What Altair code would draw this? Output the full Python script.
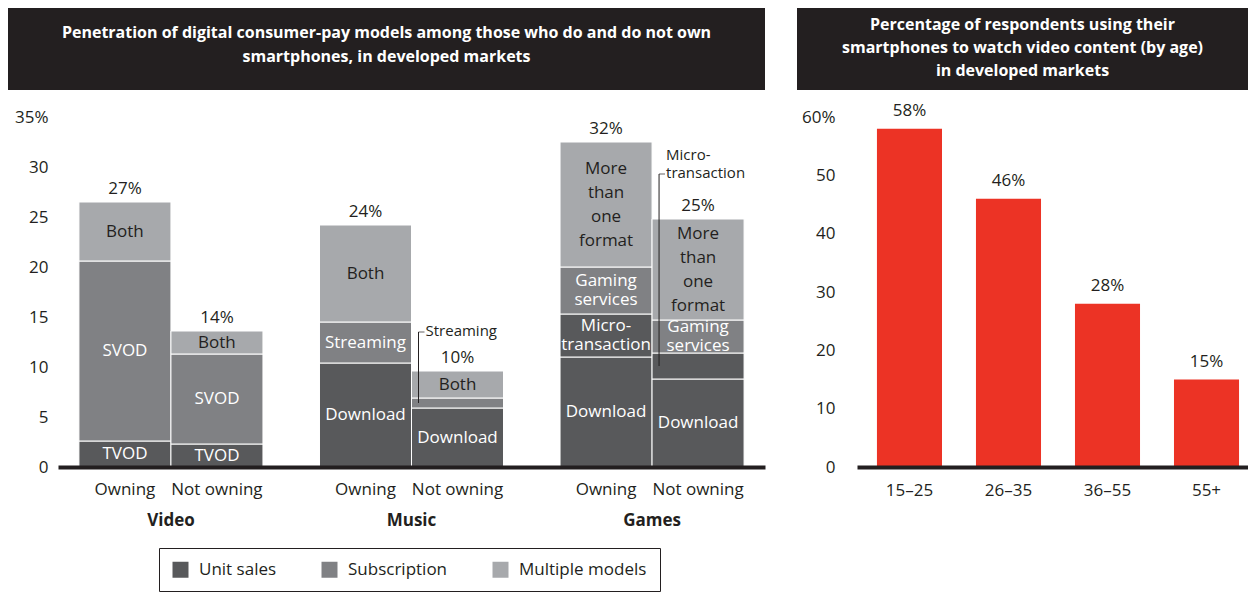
import altair as alt
import pandas as pd

FONT = "Open Sans"
DARK = "#231f20"

# ---------------- left chart data ----------------
groups = ["Video", "Music", "Games"]
owners = ["Owning", "Not owning"]
models = ["Unit sales", "Subscription", "Multiple models"]
model_colors = ["#58595b", "#808184", "#a7a9ac"]

seg_group = ["Video"] * 6 + ["Music"] * 6 + ["Games"] * 8
seg_owner = (["Owning"] * 3 + ["Not owning"] * 3 + ["Owning"] * 3 + ["Not owning"] * 3
             + ["Owning"] * 4 + ["Not owning"] * 4)
seg_name = ["TVOD", "SVOD", "Both", "TVOD", "SVOD", "Both",
            "Download", "Streaming", "Both", "Download", "Streaming", "Both",
            "Download", "Micro-transaction", "Gaming services", "More than one format",
            "Download", "Micro-transaction", "Gaming services", "More than one format"]
seg_model = ["Unit sales", "Subscription", "Multiple models"] * 4 + \
            ["Unit sales", "Unit sales", "Subscription", "Multiple models"] * 2
seg_value = [2.6, 18.0, 5.9, 2.3, 9.0, 2.3,
             10.4, 4.1, 9.7, 5.9, 1.0, 2.7,
             11.0, 4.3, 4.7, 12.5, 8.8, 2.6, 3.3, 10.1]
seg_label = ["TVOD", "SVOD", "Both", "TVOD", "SVOD", "Both",
             "Download", "Streaming", "Both", "Download", "", "Both",
             "Download", "Micro-\ntransaction", "Gaming\nservices", "More\nthan\none\nformat",
             "Download", "", "Gaming\nservices", "More\nthan\none\nformat"]

bar_group = ["Video", "Video", "Music", "Music", "Games", "Games"]
bar_owner = ["Owning", "Not owning"] * 3
bar_total_label = ["27%", "14%", "24%", "10%", "32%", "25%"]

callout_group = ["Music", "Games"]
callout_owner = ["Not owning", "Not owning"]
callout_segment = ["Streaming", "Micro-transaction"]
callout_text = ["Streaming", "Micro-\ntransaction"]

left_title = "Penetration of digital consumer-pay models among those who do and do not own\nsmartphones, in developed markets"

# ---------------- right chart data ----------------
ages = ["15–25", "26–35", "36–55", "55+"]
age_values = [58, 46, 28, 15]
age_labels = ["58%", "46%", "28%", "15%"]
right_title = "Percentage of respondents using their\nsmartphones to watch video content (by age)\nin developed markets"

# ---------------- tables ----------------
seg = pd.DataFrame({"group": seg_group, "owner": seg_owner, "segment": seg_name,
                    "model": seg_model, "value": seg_value, "label": seg_label})
seg["y1"] = seg.groupby(["group", "owner"], sort=False)["value"].cumsum()
seg["y0"] = seg["y1"] - seg["value"]
seg["mid"] = (seg["y0"] + seg["y1"]) / 2
seg["nlines"] = seg["label"].str.count("\n") + 1

tops = seg.groupby(["group", "owner"], sort=False)["y1"].max().reset_index(name="top")
bars = pd.DataFrame({"group": bar_group, "owner": bar_owner, "label": bar_total_label}).merge(
    tops, on=["group", "owner"])

callouts = pd.DataFrame({"group": callout_group, "owner": callout_owner,
                         "segment": callout_segment, "text": callout_text})
callouts = callouts.merge(seg[["group", "owner", "segment", "mid"]], on=["group", "owner", "segment"])
callouts = callouts.merge(tops, on=["group", "owner"])

ages_df = pd.DataFrame({"age": ages, "value": age_values, "label": age_labels})

# ---------------- left chart ----------------
LW, LH = 707, 350
xenc = alt.X("group:N", sort=groups, title=None,
             scale=alt.Scale(paddingInner=0.235, paddingOuter=0.087),
             axis=alt.Axis(labelAngle=0, ticks=False, tickSize=0, domainWidth=4, domainColor=DARK,
                           labelPadding=45, labelFontWeight="bold", labelFontSize=17,
                           labelColor=DARK, labelFont=FONT, zindex=1))
xoff = alt.XOffset("owner:N", sort=owners, scale=alt.Scale(paddingInner=0, paddingOuter=0))
yscale = alt.Scale(domain=[0, 35], nice=False)
yaxis = alt.Axis(values=list(range(0, 40, 5)),
                 labelExpr="datum.value == 35 ? '35%' : datum.label",
                 domain=False, ticks=False, grid=False, labelPadding=10,
                 labelFontSize=17, labelColor=DARK, labelFont=FONT)

bar_layer = alt.Chart(seg).mark_bar(stroke="white", strokeWidth=1).encode(
    x=xenc, xOffset=xoff,
    y=alt.Y("y0:Q", scale=yscale, axis=yaxis, title=None),
    y2="y1:Q",
    color=alt.Color("model:N", scale=alt.Scale(domain=models, range=model_colors),
                    legend=alt.Legend(title=None, orient="none", legendX=101, legendY=431,
                                      direction="horizontal", symbolType="square",
                                      symbolSize=256, symbolStrokeWidth=0,
                                      labelFontSize=17, labelColor=DARK, labelFont=FONT,
                                      columnPadding=44, padding=13, labelOffset=10,
                                      strokeColor=DARK, fillColor="white")),
)

txt_color = alt.condition(alt.datum.model == "Multiple models", alt.value(DARK), alt.value("white"))


def seg_text(n, line_h):
    return alt.Chart(seg).transform_filter(
        f"datum.label != '' && datum.nlines == {n}"
    ).mark_text(font=FONT, fontSize=17, lineBreak="\n", lineHeight=line_h, baseline="middle",
                dy=-(n - 1) * line_h / 2).encode(
        x=xenc, xOffset=xoff,
        y=alt.Y("mid:Q", scale=yscale, axis=yaxis, title=None),
        text="label:N", color=txt_color,
    )


seg_texts = [seg_text(1, 20), seg_text(2, 19), seg_text(4, 24)]

total_text = alt.Chart(bars).mark_text(font=FONT, fontSize=17, baseline="bottom", dy=-4,
                                       color=DARK).encode(
    x=xenc, xOffset=xoff,
    y=alt.Y("top:Q", scale=yscale, axis=yaxis, title=None),
    text="label:N",
)

owner_text = alt.Chart(bars).mark_text(font=FONT, fontSize=17, baseline="middle",
                                       color=DARK).encode(
    x=xenc, xOffset=xoff, y=alt.value(LH + 23), text="owner:N",
)


# callouts (positioned from the group band centre = the left edge of the "Not owning" bar)
def callout_layers(idx, top_off, text_dy, line_h):
    d = callouts.iloc[[idx]]
    rule = alt.Chart(d).mark_rule(color=DARK, strokeWidth=1, xOffset=7,
                                  y2Offset=top_off).encode(
        x=xenc,
        y=alt.Y("mid:Q", scale=yscale, axis=yaxis, title=None), y2="top:Q",
    )
    tick = alt.Chart(d).mark_tick(color=DARK, thickness=1, size=6, xOffset=10,
                                  yOffset=top_off).encode(
        x=xenc,
        y=alt.Y("top:Q", scale=yscale, axis=yaxis, title=None),
    )
    text = alt.Chart(d).mark_text(font=FONT, fontSize=15, align="left", baseline="middle",
                                  dx=14, dy=text_dy, lineBreak="\n", lineHeight=line_h,
                                  color=DARK).encode(
        x=xenc,
        y=alt.Y("top:Q", scale=yscale, axis=yaxis, title=None), text="text:N",
    )
    return [rule, tick, text]


co1 = callout_layers(0, -39, -40, 18)
co2 = callout_layers(1, -45, -64, 18)

left_box = alt.Chart(pd.DataFrame({"t": [left_title]})).mark_rect(color=DARK).encode(
    x=alt.value(-50), x2=alt.value(LW), y=alt.value(-109), y2=alt.value(-27))
left_head = alt.Chart(pd.DataFrame({"t": [left_title]})).mark_text(
    font=FONT, fontSize=16, fontWeight="bold", color="white", lineBreak="\n", lineHeight=24,
    baseline="middle").encode(x=alt.value((LW - 50) / 2), y=alt.value(-84), text="t:N")

left = alt.layer(left_box, left_head, bar_layer, *seg_texts, total_text,
                 owner_text, *co1, *co2).properties(width=LW, height=LH)

# ---------------- right chart ----------------
RW, RH = 391, 350
rx = alt.X("age:N", sort=ages, title=None,
           scale=alt.Scale(paddingInner=0.343, paddingOuter=0.146, align=0.69),
           axis=alt.Axis(labelAngle=0, ticks=False, tickSize=0, domainWidth=4, domainColor=DARK,
                         labelPadding=15, labelFontSize=17, labelColor=DARK, labelFont=FONT,
                         zindex=1))
ry_scale = alt.Scale(domain=[0, 60], nice=False)
ry_axis = alt.Axis(values=list(range(0, 70, 10)),
                   labelExpr="datum.value == 60 ? '60%' : datum.label",
                   domain=False, ticks=False, grid=False, labelPadding=22,
                   labelFontSize=17, labelColor=DARK, labelFont=FONT)

rbars = alt.Chart(ages_df).mark_bar(color="#ec3325").encode(
    x=rx, y=alt.Y("value:Q", scale=ry_scale, axis=ry_axis, title=None))
rtext = alt.Chart(ages_df).mark_text(font=FONT, fontSize=17, baseline="bottom", dy=-9,
                                     color=DARK).encode(
    x=rx, y=alt.Y("value:Q", scale=ry_scale, axis=ry_axis, title=None), text="label:N")

right_box = alt.Chart(pd.DataFrame({"t": [right_title]})).mark_rect(color=DARK).encode(
    x=alt.value(-60), x2=alt.value(RW), y=alt.value(-109), y2=alt.value(-27))
right_head = alt.Chart(pd.DataFrame({"t": [right_title]})).mark_text(
    font=FONT, fontSize=16, fontWeight="bold", color="white", lineBreak="\n", lineHeight=23,
    baseline="middle").encode(x=alt.value((RW - 60) / 2), y=alt.value(-92), text="t:N")

right = alt.layer(right_box, right_head, rbars, rtext).properties(width=RW, height=RH)

chart = alt.hconcat(left, right, spacing=32).properties(padding=0).configure_view(
    stroke=None).configure_text(font=FONT)

chart.save("out.html", embed_options={"renderer": "svg", "actions": False})
